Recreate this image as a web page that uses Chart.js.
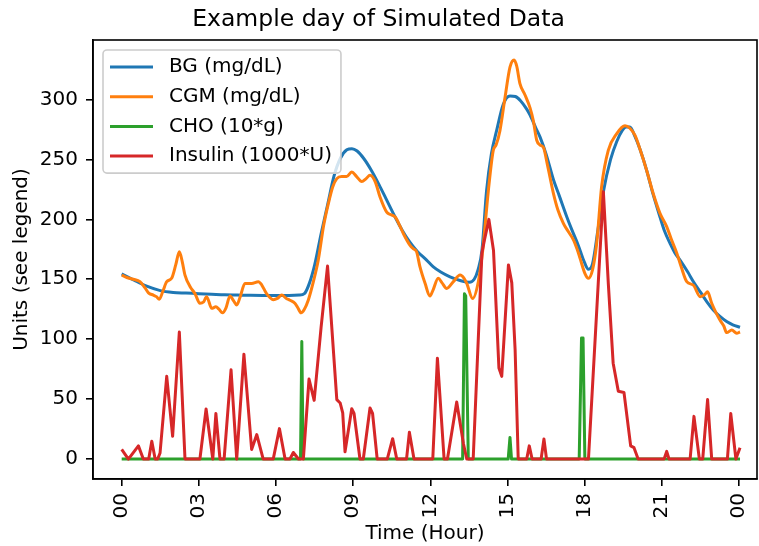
<!DOCTYPE html>
<html>
<head>
<meta charset="utf-8">
<script src="https://cdn.jsdelivr.net/npm/chart.js@4.4.1/dist/chart.umd.min.js"></script>
<style>
html, body { margin: 0; padding: 0; background: #ffffff; }
#wrap { width: 759px; height: 546px; }
</style>
</head>
<body>
<div id="wrap"><canvas id="c" width="759" height="546"></canvas></div>
<script>
const titleText = 'Example day of Simulated Data';
const xAxisLabel = 'Time (Hour)';
const yAxisLabel = 'Units (see legend)';
const seriesLabels = ['BG (mg/dL)', 'CGM (mg/dL)', 'CHO (10*g)', 'Insulin (1000*U)'];
const seriesColors = ['#1f77b4', '#ff7f0e', '#2ca02c', '#d62728'];

const xTickHours = [0, 3, 6, 9, 12, 15, 18, 21, 24];
const xTickLabels = ['00', '03', '06', '09', '12', '15', '18', '21', '00'];
const yTickValues = [0, 50, 100, 150, 200, 250, 300];
const yTickLabels = ['0', '50', '100', '150', '200', '250', '300'];

const bgHours = [0.0, 0.5, 1.0, 1.5, 2.0, 2.5, 3.0, 3.5, 4.0, 4.5, 5.0, 5.5, 6.0, 6.5, 6.9, 7.1, 7.3, 7.5, 7.75, 8.0, 8.25, 8.5, 8.75, 8.95, 9.15, 9.4, 9.7, 10.0, 10.3, 10.6, 10.9, 11.2, 11.5, 11.85, 12.1, 12.4, 12.76, 13.15, 13.51, 13.7, 13.85, 14.0, 14.18, 14.37, 14.57, 14.83, 15.09, 15.3, 15.5, 15.74, 15.87, 16.1, 16.26, 16.5, 16.78, 17.0, 17.3, 17.5, 17.75, 17.95, 18.14, 18.3, 18.5, 18.72, 19.0, 19.24, 19.45, 19.6, 19.75, 19.95, 20.15, 20.4, 20.65, 20.92, 21.1, 21.31, 21.5, 21.7, 22.0, 22.22, 22.5, 22.75, 22.99, 23.25, 23.51, 23.75, 24.03];
const bgValues = [154.5, 149, 144, 140.5, 139, 138.5, 138, 137.5, 137, 136.8, 136.6, 136.5, 136.5, 136.5, 136.8, 138, 147, 162, 188, 212, 236, 251, 258, 259, 257, 251, 241, 229, 216, 203, 191, 181, 173, 166, 160.5, 156, 152, 149, 147.5, 150, 158, 174, 224, 255, 274, 296, 303, 302.5, 299, 292, 287, 276, 268.6, 254, 233, 220, 202, 191, 178, 166, 158.3, 163, 190, 223, 250, 265, 274, 277, 277, 269, 258, 241, 221, 202, 190, 180, 172, 166, 156, 148, 139, 131, 124.4, 119, 114.7, 112, 110];

const cgmHours = [0.0, 0.2, 0.45, 0.71, 0.9, 1.04, 1.23, 1.35, 1.46, 1.6, 1.75, 1.94, 2.1, 2.24, 2.35, 2.46, 2.66, 2.85, 3.04, 3.18, 3.3, 3.5, 3.66, 3.78, 3.92, 4.05, 4.21, 4.35, 4.47, 4.6, 4.79, 5.05, 5.31, 5.45, 5.63, 5.89, 6.05, 6.22, 6.4, 6.54, 6.73, 6.85, 6.97, 7.1, 7.25, 7.45, 7.64, 7.85, 8.03, 8.2, 8.36, 8.55, 8.74, 8.94, 9.13, 9.33, 9.5, 9.65, 9.85, 10.04, 10.3, 10.45, 10.63, 10.8, 10.95, 11.2, 11.33, 11.46, 11.59, 11.79, 11.98, 12.1, 12.3, 12.45, 12.63, 12.89, 13.15, 13.3, 13.41, 13.64, 13.86, 14.03, 14.25, 14.44, 14.55, 14.7, 14.9, 15.09, 15.25, 15.35, 15.48, 15.67, 15.87, 16.0, 16.13, 16.26, 16.39, 16.55, 16.78, 16.95, 17.17, 17.35, 17.56, 17.7, 17.82, 18.0, 18.14, 18.3, 18.46, 18.65, 18.91, 19.24, 19.56, 19.75, 19.95, 20.15, 20.4, 20.65, 20.92, 21.18, 21.35, 21.57, 21.75, 21.96, 22.22, 22.48, 22.65, 22.77, 22.93, 23.1, 23.25, 23.4, 23.51, 23.71, 23.9, 24.03];
const cgmValues = [153.5, 151.5, 150, 148, 143, 138.7, 136.8, 135.5, 133.3, 140, 148, 150.8, 162, 173, 165, 153.5, 143.8, 138, 130, 131, 135.5, 125.8, 127, 125, 122, 126, 136, 132, 128.5, 135, 146.5, 146.5, 148, 145, 138, 133, 134, 136.8, 134, 132.5, 130, 126, 122, 125, 132.5, 148, 166, 195, 213, 227, 234, 235.7, 235.7, 239.5, 235.7, 231.5, 234, 236.8, 231.5, 218.7, 206, 204, 202, 195, 188, 178.5, 175.5, 173, 160.5, 146.6, 136, 141, 150.8, 147, 142.4, 148, 153.5, 151, 146.6, 134, 148, 174, 224, 257.5, 262, 274, 302, 327, 333, 328, 313, 304, 293, 282, 266, 262, 260, 245, 221.5, 208, 196.5, 190, 182.7, 175, 167, 155, 150.8, 158, 180, 227, 257.5, 271.5, 278, 276, 270, 258, 241, 222, 205, 194, 184, 172, 160, 148, 145, 135.5, 137, 139.5, 130, 122, 116, 111, 105.5, 107.6, 105, 106];

const choHours = [0.0, 6.95, 7.0, 7.05, 13.25, 13.32, 13.37, 13.47, 15.02, 15.09, 15.15, 17.78, 17.87, 17.93, 18.0, 24.03];
const choValues = [0, 0, 98, 0, 0, 138, 136, 0, 0, 18, 0, 0, 101, 101, 0, 0];

const insulinHours = [0.0, 0.26, 0.65, 0.84, 1.05, 1.17, 1.3, 1.4, 1.49, 1.75, 1.98, 2.24, 2.46, 3.04, 3.28, 3.54, 3.66, 3.82, 3.98, 4.25, 4.47, 4.75, 5.05, 5.25, 5.5, 5.89, 6.13, 6.35, 6.54, 6.67, 6.87, 7.06, 7.28, 7.48, 7.75, 8.0, 8.36, 8.49, 8.59, 8.68, 8.94, 9.03, 9.26, 9.39, 9.65, 9.75, 9.93, 10.32, 10.53, 10.69, 11.07, 11.18, 11.36, 12.09, 12.27, 12.53, 12.66, 13.02, 13.28, 13.41, 13.66, 14.0, 14.1, 14.27, 14.45, 14.51, 14.66, 14.77, 15.03, 15.16, 15.29, 15.41, 15.74, 15.84, 15.95, 16.3, 16.41, 16.51, 18.14, 18.52, 18.72, 18.91, 19.1, 19.3, 19.52, 19.78, 19.91, 20.07, 21.08, 21.18, 21.27, 22.09, 22.24, 22.45, 22.58, 22.77, 22.93, 23.54, 23.67, 23.87, 24.03];
const insulinValues = [8, 0, 11, 0, 0, 14.8, 0, 0, 5, 69, 19, 106, 0, 0, 41.8, 0, 38, 0, 0, 74.5, 0, 87.5, 8, 20.4, 0, 0, 25.4, 0, 0, 5.5, 0, 0, 66.7, 49, 110, 161, 49.6, 46.8, 38.5, 6, 42, 38, 0, 0, 42.6, 38, 0, 0, 17, 0, 0, 22.3, 0, 0, 84.2, 0, 0, 47.6, 13, 0, 0, 172, 183, 200, 174, 146.6, 76, 69, 162, 147, 91, 0, 0, 11, 0, 0, 16.8, 0, 0, 146.6, 223, 147, 80, 56.5, 55.6, 11, 9.5, 0, 0, 6.4, 0, 0, 35.6, 0, 0, 49.6, 0, 0, 38, 0, 9.5];

function pairs(hours, values) {
  return hours.map((h, i) => ({ x: h, y: values[i] }));
}

const FONT_FAMILY = "'DejaVu Sans', 'Liberation Sans', sans-serif";
const TICK_SIZE = 20;
Chart.defaults.font.family = FONT_FAMILY;
Chart.defaults.color = '#000000';

const spinePlugin = {
  id: 'spines',
  afterDraw(chart) {
    const { ctx, chartArea: a } = chart;
    ctx.save();
    ctx.strokeStyle = '#000000';
    ctx.lineWidth = 1.6;
    ctx.strokeRect(a.left, a.top, a.right - a.left, a.bottom - a.top);
    ctx.restore();
  }
};

const boxLegendPlugin = {
  id: 'boxLegend',
  afterDraw(chart) {
    const { ctx, chartArea: a } = chart;
    const ds = chart.data.datasets;
    ctx.save();
    ctx.font = TICK_SIZE + 'px ' + FONT_FAMILY;
    let maxW = 0;
    ds.forEach(d => { maxW = Math.max(maxW, ctx.measureText(d.label).width); });
    const left = a.left + 10;
    const top = a.top + 10;
    const handleX0 = left + 7;
    const handleX1 = left + 50;
    const textX = left + 66;
    const rowGap = 29.7;
    const firstRow = top + 17;
    const width = textX + maxW + 9 - left;
    const height = 17 * 2 + rowGap * (ds.length - 1);
    const r = 4;
    ctx.beginPath();
    ctx.moveTo(left + r, top);
    ctx.lineTo(left + width - r, top);
    ctx.arcTo(left + width, top, left + width, top + r, r);
    ctx.lineTo(left + width, top + height - r);
    ctx.arcTo(left + width, top + height, left + width - r, top + height, r);
    ctx.lineTo(left + r, top + height);
    ctx.arcTo(left, top + height, left, top + height - r, r);
    ctx.lineTo(left, top + r);
    ctx.arcTo(left, top, left + r, top, r);
    ctx.closePath();
    ctx.fillStyle = 'rgba(255,255,255,0.8)';
    ctx.fill();
    ctx.strokeStyle = '#cccccc';
    ctx.lineWidth = 1.6;
    ctx.stroke();
    ds.forEach((d, i) => {
      const y = firstRow + rowGap * i;
      ctx.beginPath();
      ctx.moveTo(handleX0, y);
      ctx.lineTo(handleX1, y);
      ctx.strokeStyle = d.borderColor;
      ctx.lineWidth = 3;
      ctx.lineCap = 'butt';
      ctx.stroke();
      ctx.fillStyle = '#000000';
      ctx.textBaseline = 'middle';
      ctx.textAlign = 'left';
      ctx.fillText(d.label, textX, y);
    });
    ctx.restore();
  }
};

const seriesHours = [bgHours, cgmHours, choHours, insulinHours];
const seriesValues = [bgValues, cgmValues, choValues, insulinValues];
const smooth = [true, true, false, false];

const datasets = seriesLabels.map((label, i) => ({
  label: label,
  data: pairs(seriesHours[i], seriesValues[i]),
  borderColor: seriesColors[i],
  backgroundColor: seriesColors[i],
  borderWidth: 3,
  pointRadius: 0,
  fill: false,
  tension: smooth[i] ? 0.4 : 0,
  cubicInterpolationMode: smooth[i] ? 'monotone' : 'default',
  borderJoinStyle: 'round',
  borderCapStyle: 'butt',
  order: seriesLabels.length - i
}));

new Chart(document.getElementById('c').getContext('2d'), {
  type: 'line',
  data: { datasets: datasets },
  options: {
    responsive: false,
    animation: false,
    devicePixelRatio: 1,
    layout: { padding: { left: 0, right: 2, top: 0, bottom: 0 } },
    plugins: {
      legend: { display: false },
      tooltip: { enabled: false },
      title: {
        display: true,
        text: titleText,
        color: '#000000',
        font: { size: 23.5, weight: 'normal', family: FONT_FAMILY, lineHeight: 1.2 },
        padding: { top: 6, bottom: 5.8 }
      }
    },
    scales: {
      x: {
        type: 'linear',
        min: -1.115,
        max: 24.69,
        afterBuildTicks: (s) => { s.ticks = xTickHours.map(v => ({ value: v })); },
        afterFit: (s) => { s.height = 67; s.paddingLeft = 0; s.paddingRight = 0; },
        ticks: {
          autoSkip: false,
          minRotation: 90,
          maxRotation: 90,
          padding: 7,
          color: '#000000',
          font: { size: TICK_SIZE, family: FONT_FAMILY },
          callback: (v, i) => xTickLabels[i]
        },
        grid: { display: true, drawOnChartArea: false, drawTicks: true, tickLength: 7, color: '#000000', lineWidth: 1.6 },
        border: { display: true, color: '#000000', width: 1.6 },
        title: { display: true, text: xAxisLabel, color: '#000000', font: { size: TICK_SIZE, family: FONT_FAMILY, lineHeight: 1.2 }, padding: { top: 0, bottom: 0 } }
      },
      y: {
        type: 'linear',
        min: -16.65,
        max: 349.65,
        afterBuildTicks: (s) => { s.ticks = yTickValues.map(v => ({ value: v })); },
        afterFit: (s) => { s.width = 93; s.paddingTop = 0; s.paddingBottom = 0; },
        ticks: {
          autoSkip: false,
          padding: 8,
          color: '#000000',
          font: { size: TICK_SIZE, family: FONT_FAMILY },
          callback: (v, i) => yTickLabels[i]
        },
        grid: { display: true, drawOnChartArea: false, drawTicks: true, tickLength: 7, color: '#000000', lineWidth: 1.6 },
        border: { display: true, color: '#000000', width: 1.6 },
        title: { display: true, text: yAxisLabel, color: '#000000', font: { size: TICK_SIZE, family: FONT_FAMILY, lineHeight: 1.2 }, padding: { top: 9.5, bottom: 0 } }
      }
    }
  },
  plugins: [spinePlugin, boxLegendPlugin]
});
</script>
</body>
</html>
